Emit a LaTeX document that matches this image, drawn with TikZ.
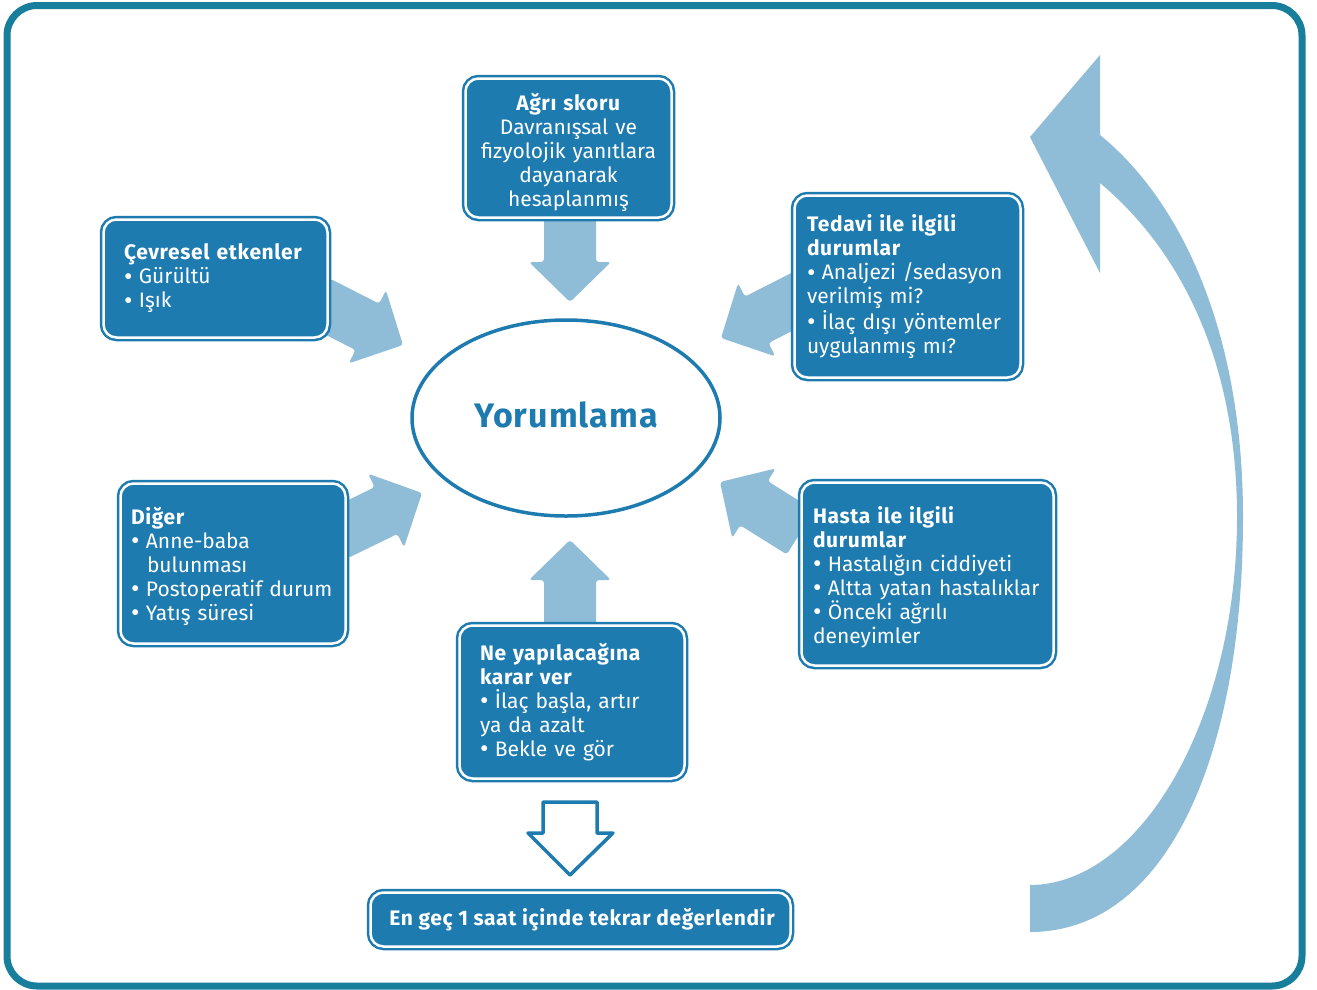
\documentclass[tikz,border=0pt]{standalone}
\usepackage{fontspec}
\setmainfont{Fira Sans}[BoldFeatures={LetterSpace=3}]
\usetikzlibrary{shapes.geometric}
\definecolor{boxblue}{RGB}{30,123,176}
\definecolor{lightarrow}{RGB}{143,189,215}
\definecolor{framec}{RGB}{23,127,156}
\newcommand{\bul}{\raisebox{-1.2pt}{\fontsize{26}{24}\selectfont •}\hspace{6.5pt}}
\newcommand{\blockarr}[4]{%
  \begin{scope}[shift={(#1,#2)}, rotate=#3]
    \fill[lightarrow, rounded corners=3pt] (0,0) -- (-40,41) -- (-40,26) -- (-#4,26) -- (-#4,-26) -- (-40,-26) -- (-40,-41) -- cycle;
  \end{scope}}
\begin{document}
\begin{tikzpicture}[x=1pt,y=-1pt,
  boxbg/.style={draw=boxblue, double=white, line width=2.5pt, double distance=2.5pt,
    fill=boxblue, rounded corners=13pt, inner sep=0pt},
  boxtext/.style={text=white, font=\fontsize{21}{24}\selectfont, align=left, inner sep=0pt},
  outarrow/.style={draw=boxblue, fill=white, line width=3.5pt, line join=round}]
\useasboundingbox (0,0) rectangle (1317,989);
\fill[white] (0,0) rectangle (1317,989);
% frame
\draw[framec, line width=7pt, rounded corners=30pt] (7,5.5) rectangle (1302,986);
% block arrows
\blockarr{570}{302}{-90}{90}
\blockarr{403}{345}{-27}{95}
\blockarr{422}{493}{26}{95}
\blockarr{721}{338}{207}{95}
\blockarr{720}{482}{148}{95}
\blockarr{570}{540}{90}{100}
% big curved return arrow
\fill[lightarrow] (1030,885) .. controls (1140,885) and (1237,720) .. (1237,517)
  .. controls (1237,360) and (1180,250) .. (1100,183)
  -- (1100,273) -- (1030,137) -- (1100,55) -- (1100,135)
  .. controls (1180,200) and (1243,330) .. (1243,517)
  .. controls (1243,760) and (1165,932) .. (1030,932) -- cycle;
% boxes
\node[boxbg, minimum width=206pt, minimum height=139pt] (agri) at (568.5,148) {};
\node[boxtext, align=center, text width=206pt] (agri-t) at ([yshift=-4pt]agri.center)
  {\textbf{Ağrı skoru}\\Davranışsal ve\\fizyolojik yanıtlara\\dayanarak\\hesaplanmış};
\node[boxbg, minimum width=224pt, minimum height=118pt] (cevre) at (215.5,278.5) {};
\node[boxtext, text width=183pt] (cevre-t) at ([yshift=0pt]cevre.center)
  {\textbf{Çevresel etkenler}\\\bul Gürültü\\\bul Işık};
\node[boxbg, minimum width=226pt, minimum height=182pt] (tedavi) at (907.5,286.5) {};
\node[boxtext, text width=201pt] (tedavi-t) at ([yshift=0pt]tedavi.center)
  {\textbf{Tedavi ile ilgili}\\\textbf{durumlar}\\\bul Analjezi /sedasyon\\verilmiş mi?\\\bul İlaç dışı yöntemler\\uygulanmış mı?};
\node[boxbg, minimum width=225pt, minimum height=160pt] (diger) at (233,563.5) {};
\node[boxtext, text width=210pt] (diger-t) at ([yshift=-3pt, xshift=3pt]diger.center)
  {\textbf{Diğer}\\\bul Anne-baba\\\hspace*{16pt}bulunması\\\bul Postoperatif durum\\\bul Yatış süresi};
\node[boxbg, minimum width=252pt, minimum height=183pt] (hasta) at (927.5,574) {};
\node[boxtext, text width=235pt] (hasta-t) at ([yshift=-3pt, xshift=3pt]hasta.center)
  {\textbf{Hasta ile ilgili}\\\textbf{durumlar}\\\bul Hastalığın ciddiyeti\\\bul Altta yatan hastalıklar\\\bul Önceki ağrılı\\deneyimler};
\node[boxbg, minimum width=225pt, minimum height=153pt] (ne) at (572,702) {};
\node[boxtext, text width=184pt] (ne-t) at ([yshift=0pt]ne.center)
  {\textbf{Ne yapılacağına}\\\textbf{karar ver}\\\bul İlaç başla, artır\\ya da azalt\\\bul Bekle ve gör};
\node[boxbg, minimum width=420pt, minimum height=54pt] (engec) at (580.5,919.5) {};
\node[boxtext, anchor=west] (engec-t) at ([xshift=20pt]engec.west)
  {\textbf{En geç 1 saat içinde tekrar değerlendir}};
% centre ellipse
\node[draw=boxblue, line width=3.5pt, ellipse, fill=white, minimum width=308pt, minimum height=196pt,
  inner sep=0pt] (yorum) at (566,418) {};
\node[text=boxblue, font=\fontsize{34}{40}\selectfont\bfseries, inner sep=0pt] (yorum-t)
  at ([yshift=3pt]yorum.center) {Yorumlama};
% outline down arrow
\draw[outarrow] (543,802) -- (597,802) -- (597,833) -- (613,833) -- (570,875) -- (528,833) -- (543,833) -- cycle;
\end{tikzpicture}
\end{document}
